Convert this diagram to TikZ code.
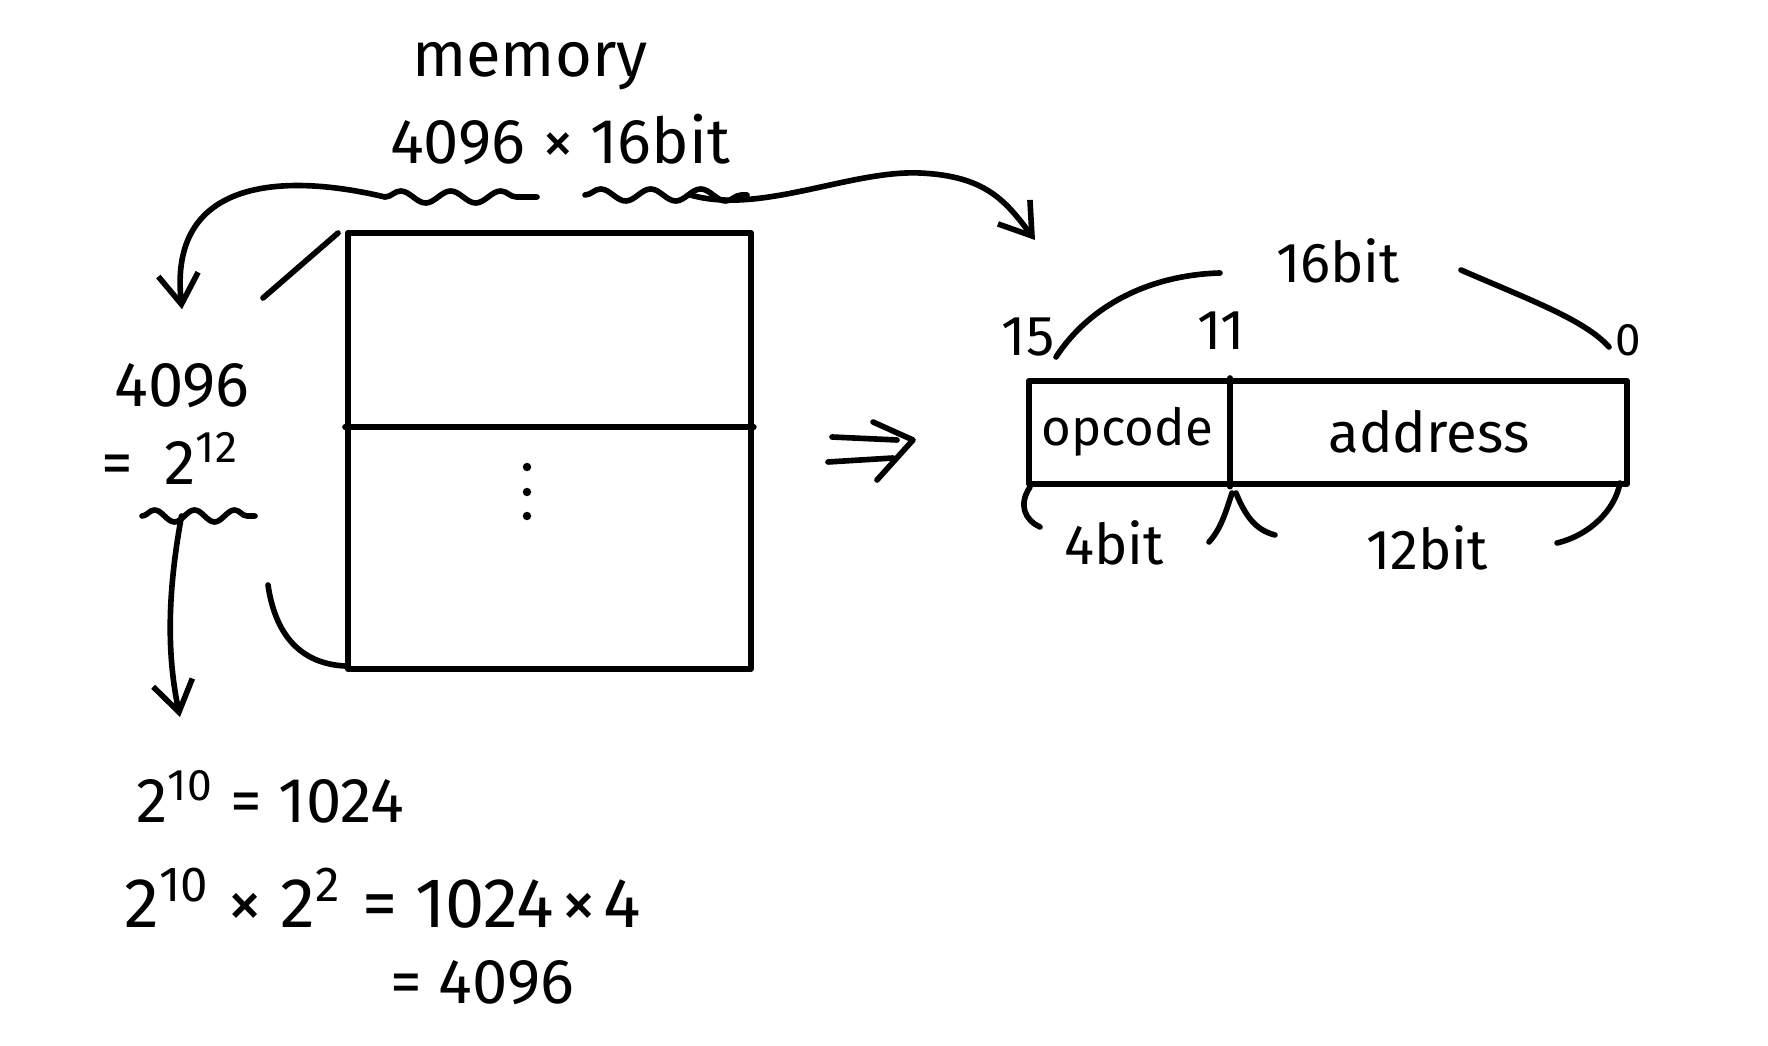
\documentclass[tikz,border=0pt]{standalone}
\usepackage{fontspec}
\setmainfont{Fira Sans}
\usetikzlibrary{arrows.meta, positioning, decorations.pathmorphing, calc}

\begin{document}
\begin{tikzpicture}[x=0.01cm, y=-0.01cm, line width=1.6pt, line cap=round, line join=round,
    every node/.style={font=\fontsize{18}{20}\selectfont},
    regtext/.style={font=\fontsize{16}{18}\selectfont},
    hand/.style={-{Straight Barb[length=3mm, width=4mm]}},
    wave/.style={decorate, decoration={snake, segment length=5mm, amplitude=0.6mm}}]
    \fill[white] (0,0) rectangle (1768,1046);
    \useasboundingbox (0,0) rectangle (1768,1046);

    % Memory
    \node (memtitle) at (530,66) {memory};
    \node (memsize) at (560,140) {4096 × 16bit};
    \node[draw, anchor=north west, minimum width=4.03cm, minimum height=4.36cm] (mem) at (345,230) {};
    \coordinate (memdiv) at (345,427);
    \draw (memdiv) -- (memdiv -| mem.east);
    \foreach \y in {467,492,516}
        \fill (527,\y) circle[radius=1.2pt];

    % Wavy underlines
    \coordinate (w1a) at (385,197);
    \coordinate (w1b) at (537,197);
    \coordinate (w2a) at (585,195);
    \coordinate (w2b) at (747,195);
    \draw[wave] (w1a) -- (w1b);
    \draw[wave] (w2a) -- (w2b);

    % Rows
    \node (rows) at (182,386) {4096};
    \node (pow) at (170,458) {=\hspace{9pt}2\textsuperscript{12}};
    \coordinate (w3a) at (142,516);
    \coordinate (w3b) at (255,516);
    \draw[wave, decoration={segment length=4mm}] (w3a) -- (w3b);

    % Brackets beside memory
    \draw (263,298) -- (338,233);
    \draw (268,585) .. controls (276,640) and (305,664) .. (345,666);

    % Computation
    \node[anchor=west] (k1024) at (122,797) {2\textsuperscript{10} = 1024};
    \node[anchor=west, font=\fontsize{20}{22}\selectfont] (k4096) at (110,898)
        {2\textsuperscript{10}\hspace{5pt}×\hspace{5pt}2\textsuperscript{2}\hspace{6pt}=\hspace{5pt}1024\hspace{2pt}×\hspace{2pt}4};
    \node[anchor=west] (keq) at (376,983) {= 4096};

    % Implies
    \draw (832,437) -- (897,440);
    \draw (828,462) -- (893,458);
    \draw (873,422) -- (913,440) -- (877,480);

    % Register
    \node[draw, anchor=north west, minimum width=5.98cm, minimum height=1.03cm] (reg) at (1026,378) {};
    \coordinate (regdiv) at (1230,378);
    \draw (regdiv) -- (regdiv |- reg.south);
    \node[regtext, font=\fontsize{14.5}{16}\selectfont] (opc) at (1127,432) {opcode};
    \node[regtext] (adr) at (1429,432) {address};
    \node[regtext] (b15) at (1028,337) {15};
    \node[regtext] (b11) at (1221,331) {11};
    \node[font=\fontsize{13}{15}\selectfont] (b0) at (1628,340) {0};
    \node[regtext] (w16) at (1338,261) {16bit};
    \draw (1056,357) .. controls (1090,305) and (1150,275) .. (1220,273);
    \draw (1461,270) .. controls (1530,300) and (1585,320) .. (1609,347);
    \draw (1030,487) .. controls (1018,505) and (1025,520) .. (1040,527);
    \draw (1232,493) .. controls (1225,515) and (1220,530) .. (1209,542);
    \draw (1236,493) .. controls (1245,515) and (1255,530) .. (1275,535);
    \draw (1620,483) .. controls (1615,510) and (1590,535) .. (1557,543);
    \node[regtext] (b4) at (1114,543) {4bit};
    \node[regtext] (b12) at (1427,548) {12bit};

    % Arrows
    \coordinate (tip2) at (180,717);
    \coordinate (tip3) at (1035,240);
    \draw[hand] (w1a) .. controls (280,172) and (168,180) .. ([yshift=4mm]rows.north);
    \draw[hand] ($(w3a)!0.35!(w3b)$) .. controls (166,600) and (168,660) .. (tip2);
    \draw[hand] ($(w2a)!0.65!(w2b)$) .. controls (760,215) and (850,170) .. (920,173)
        .. controls (985,176) and (1005,200) .. (tip3);
\end{tikzpicture}
\end{document}
